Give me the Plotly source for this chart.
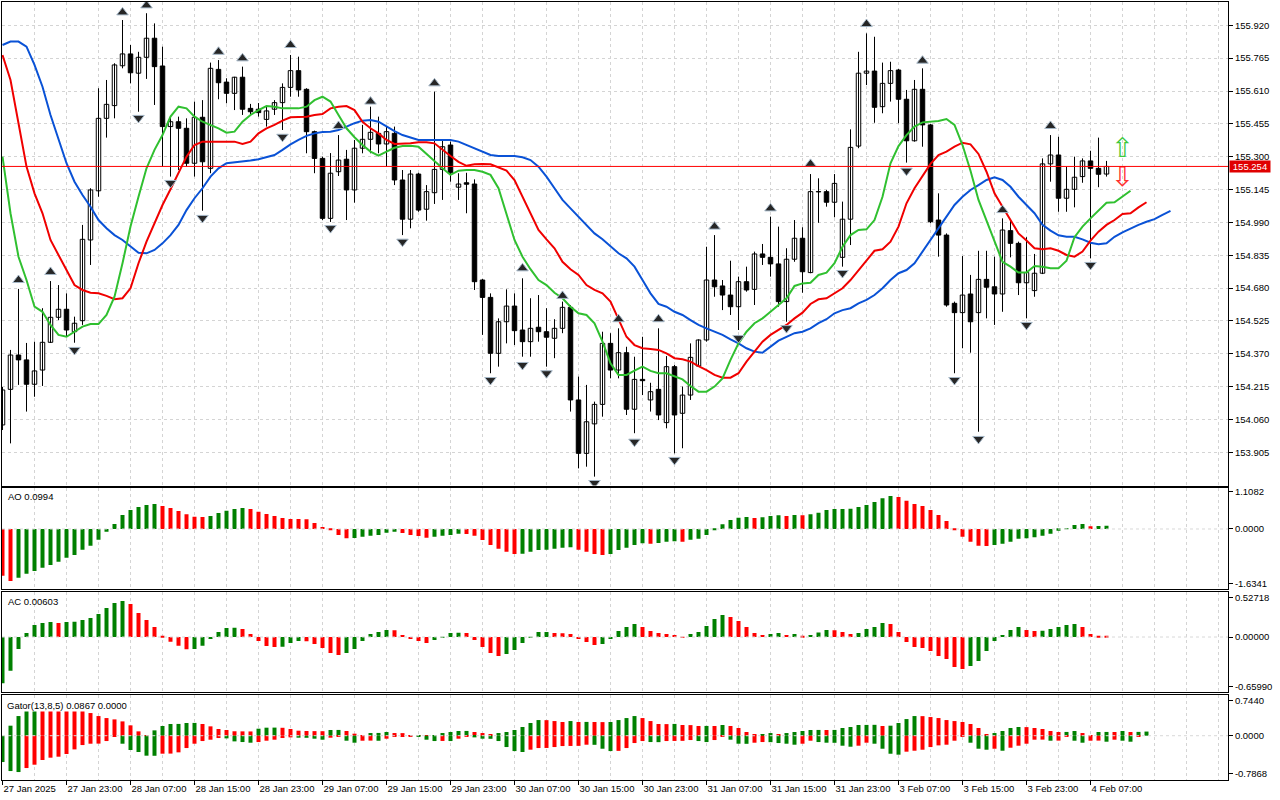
import plotly.graph_objects as go

# ---------------- price data (H1 candles, bar index 0 = 27 Jan 15:00) ----------------
open_ = [154.034,154.202,154.364,154.341,154.226,154.293,154.424,154.542,154.580,154.474,
         154.526,154.907,155.139,155.481,155.541,155.729,155.785,155.694,155.769,155.859,
         155.728,155.442,155.465,155.434,155.269,155.486,155.245,155.712,155.652,155.599,
         155.675,155.528,155.524,155.476,155.524,155.555,155.627,155.706,155.618,155.418,
         155.292,155.009,155.229,155.288,155.143,155.340,155.382,155.410,155.360,155.410,
         155.190,155.005,155.218,155.052,155.130,155.240,155.355,155.156,155.177,155.171,
         154.718,154.636,154.372,154.521,154.595,154.482,154.427,154.495,154.474,154.443,
         154.490,154.589,154.152,153.900,154.039,154.131,154.419,154.293,154.375,154.108,
         154.249,154.152,154.202,154.045,154.309,154.089,154.175,154.312,154.435,154.718,
         154.690,154.647,154.592,154.710,154.674,154.841,154.825,154.794,154.616,154.816,
         154.915,154.753,155.135,155.135,155.085,154.825,155.005,155.350,155.694,155.704,
         155.536,155.646,155.709,155.571,155.375,155.618,155.450,155.001,154.930,154.608,
         154.564,154.652,154.564,154.721,154.686,154.652,154.951,154.891,154.705,154.668,
         154.750,155.266,155.308,155.104,155.146,155.206,155.280,155.245,155.218]
high = [154.213,154.388,154.676,154.421,154.427,154.585,154.713,154.694,154.655,154.545,
        154.978,155.151,155.623,155.662,155.741,155.945,155.827,155.795,155.977,155.929,
        155.819,155.489,155.489,155.481,155.560,155.567,155.744,155.756,155.670,155.677,
        155.725,155.549,155.553,155.536,155.567,155.646,155.780,155.772,155.623,155.423,
        155.300,155.317,155.402,155.332,155.379,155.450,155.536,155.489,155.442,155.442,
        155.237,155.237,155.224,155.166,155.607,155.379,155.371,155.222,155.224,155.193,
        154.723,154.655,154.537,154.674,154.655,154.726,154.632,154.647,154.585,154.533,
        154.616,154.600,154.262,154.223,154.144,154.474,154.467,154.490,154.403,154.356,
        154.450,154.233,154.490,154.359,154.317,154.215,154.419,154.438,154.875,154.930,
        154.718,154.809,154.734,154.781,154.852,154.888,155.017,154.970,154.868,155.001,
        154.967,155.218,155.198,155.143,155.218,155.088,155.429,155.795,155.882,155.866,
        155.744,155.748,155.714,155.615,155.662,155.717,155.454,155.127,154.938,154.616,
        154.831,154.742,154.856,154.856,154.828,155.009,154.998,154.899,154.920,154.841,
        155.292,155.402,155.394,155.253,155.300,155.292,155.328,155.390,155.280]
low = [154.010,153.947,154.223,154.097,154.167,154.218,154.421,154.529,154.450,154.422,
       154.506,154.789,155.111,155.390,155.481,155.717,155.646,155.512,155.667,155.544,
       155.253,155.206,155.237,155.253,155.206,155.045,155.222,155.571,155.552,155.520,
       155.497,155.497,155.489,155.442,155.497,155.426,155.583,155.583,155.316,155.222,
       155.001,154.992,155.209,155.001,155.083,155.316,155.316,155.316,155.253,155.166,
       154.930,154.962,155.040,154.998,155.077,155.096,155.182,155.096,155.033,154.671,
       154.459,154.278,154.309,154.419,154.411,154.356,154.356,154.427,154.309,154.349,
       154.467,154.097,153.829,153.837,153.790,154.073,154.254,154.254,154.081,153.995,
       154.175,154.097,154.057,154.018,153.900,153.924,154.152,154.309,154.427,154.639,
       154.576,154.553,154.482,154.663,154.600,154.789,154.734,154.592,154.521,154.804,
       154.658,154.750,154.988,155.064,155.014,154.781,154.883,155.340,155.638,155.460,
       155.505,155.560,155.458,155.272,155.371,155.347,154.986,154.828,154.592,154.278,
       154.396,154.375,154.002,154.537,154.506,154.568,154.825,154.647,154.537,154.639,
       154.746,155.182,155.040,155.040,155.061,155.177,154.820,155.156,155.206]
close = [154.199,154.364,154.341,154.226,154.289,154.424,154.542,154.580,154.482,154.514,
         154.910,155.143,155.481,155.547,155.733,155.785,155.696,155.769,155.859,155.725,
         155.442,155.465,155.434,155.269,155.486,155.276,155.717,155.649,155.599,155.675,
         155.524,155.512,155.508,155.516,155.555,155.627,155.706,155.615,155.418,155.292,
         155.009,155.222,155.284,155.143,155.340,155.382,155.415,155.360,155.418,155.190,
         155.005,155.218,155.048,155.135,155.240,155.347,155.224,155.171,155.170,154.710,
         154.636,154.372,154.521,154.595,154.479,154.427,154.490,154.474,154.448,154.490,
         154.589,154.152,153.900,154.049,154.131,154.419,154.293,154.375,154.108,154.249,
         154.243,154.191,154.081,154.309,154.081,154.175,154.353,154.435,154.718,154.686,
         154.647,154.592,154.710,154.671,154.841,154.825,154.794,154.616,154.816,154.915,
         154.757,155.135,155.134,155.085,155.174,155.005,155.344,155.694,155.704,155.533,
         155.646,155.706,155.571,155.375,155.618,155.450,154.993,154.930,154.600,154.564,
         154.647,154.521,154.721,154.684,154.652,154.954,154.891,154.705,154.753,154.750,
         155.266,155.308,155.104,155.146,155.203,155.280,155.245,155.217,155.254]

# Alligator (already shifted: jaw +8, teeth +5, lips +3)
jaw = [155.827,155.843,155.843,155.819,155.733,155.630,155.497,155.379,155.269,155.182,
       155.119,155.064,155.001,154.962,154.930,154.907,154.875,154.847,154.844,154.860,
       154.891,154.930,154.978,155.048,155.104,155.151,155.206,155.245,155.269,155.273,
       155.276,155.282,155.288,155.299,155.308,155.332,155.358,155.379,155.398,155.410,
       155.416,155.418,155.426,155.442,155.458,155.470,155.473,155.465,155.442,155.421,
       155.402,155.392,155.379,155.379,155.379,155.379,155.379,155.371,155.355,155.340,
       155.324,155.308,155.303,155.303,155.303,155.297,155.284,155.253,155.206,155.151,
       155.096,155.056,155.017,154.978,154.938,154.910,154.879,154.844,154.820,154.781,
       154.718,154.655,154.605,154.592,154.568,154.553,154.529,154.506,154.490,154.474,
       154.459,154.438,154.419,154.396,154.380,154.375,154.403,154.432,154.450,154.467,
       154.474,154.490,154.514,154.533,154.561,154.576,154.585,154.608,154.624,154.647,
       154.679,154.718,154.750,154.765,154.797,154.852,154.907,154.962,155.017,155.072,
       155.111,155.143,155.166,155.190,155.203,155.190,155.158,155.111,155.072,155.033,
       154.978,154.951,154.929,154.922,154.922,154.910,154.894,154.887,154.891,154.922,
       154.943,154.962,154.978,154.993,155.005,155.025,155.044]
teeth = [155.780,155.662,155.458,155.253,155.127,155.033,154.907,154.836,154.765,154.694,
         154.671,154.658,154.655,154.643,154.627,154.632,154.679,154.797,154.899,154.986,
         155.072,155.146,155.222,155.300,155.355,155.371,155.371,155.371,155.371,155.371,
         155.360,155.371,155.410,155.434,155.450,155.470,155.486,155.489,155.489,155.497,
         155.501,155.528,155.536,155.539,155.520,155.465,155.434,155.410,155.379,155.360,
         155.360,155.363,155.368,155.368,155.363,155.332,155.303,155.276,155.257,155.264,
         155.266,155.264,155.250,155.234,155.190,155.111,155.033,154.954,154.910,154.868,
         154.804,154.769,154.742,154.694,154.671,154.655,154.616,154.537,154.450,154.411,
         154.396,154.392,154.388,154.372,154.349,154.344,154.333,154.312,154.293,154.270,
         154.257,154.257,154.278,154.333,154.380,154.427,154.459,154.482,154.506,154.537,
         154.564,154.605,154.627,154.632,154.655,154.679,154.718,154.765,154.812,154.856,
         154.863,154.899,154.970,155.080,155.151,155.206,155.266,155.308,155.324,155.347,
         155.366,155.358,155.313,155.229,155.127,155.064,155.001,154.938,154.904,154.868,
         154.863,154.868,154.856,154.836,154.828,154.852,154.904,154.946,154.978,155.001,
         155.030,155.033,155.061,155.085]
lips = [155.300,155.033,154.828,154.718,154.592,154.568,154.506,154.459,154.450,154.474,
        154.498,154.510,154.510,154.553,154.639,154.797,154.970,155.111,155.245,155.332,
        155.402,155.489,155.536,155.528,155.489,155.465,155.450,155.434,155.413,155.418,
        155.465,155.497,155.520,155.539,155.536,155.528,155.528,155.528,155.536,155.567,
        155.583,155.560,155.497,155.434,155.392,155.355,155.324,155.305,155.324,155.342,
        155.350,155.352,155.347,155.313,155.276,155.245,155.214,155.234,155.237,155.237,
        155.229,155.214,155.151,155.033,154.907,154.828,154.769,154.718,154.694,154.658,
        154.632,154.592,154.561,154.553,154.514,154.427,154.325,154.270,154.270,154.290,
        154.309,154.289,154.278,154.278,154.265,154.249,154.218,154.191,154.191,154.215,
        154.254,154.341,154.419,154.474,154.514,154.537,154.568,154.600,154.632,154.690,
        154.702,154.705,154.742,154.753,154.797,154.875,154.930,154.954,154.957,155.001,
        155.111,155.269,155.350,155.402,155.442,155.462,155.465,155.468,155.478,155.450,
        155.355,155.234,155.096,155.001,154.907,154.804,154.781,154.753,154.753,154.784,
        154.781,154.773,154.773,154.809,154.920,154.970,155.009,155.048,155.083,155.085,
        155.111,155.139]

# Fractal markers
fractal_up_bar = [2, 6, 15, 18, 27, 30, 36, 42, 46, 54, 65, 70, 77, 82, 89, 96, 101, 108, 115, 125, 131]
fractal_up_price = [154.718, 154.756, 155.981, 156.014, 155.795, 155.764, 155.827, 155.445, 155.560,
                    155.646, 154.773, 154.643, 154.533, 154.533, 154.970, 155.056, 155.266, 155.926,
                    155.753, 155.048, 155.445]
fractal_dn_bar = [9, 17, 21, 25, 35, 41, 50, 61, 65, 68, 74, 79, 84, 92, 98, 105, 113, 119, 122, 128, 136]
fractal_dn_price = [154.388, 155.483, 155.176, 155.011, 155.394, 154.963, 154.899, 154.246, 154.317,
                    154.278, 153.760, 153.955, 153.869, 154.444, 154.491, 154.751, 155.234, 154.246,
                    153.968, 154.506, 154.789]

signal_bar = [140, 140]
signal_price = [155.332, 155.193]
signal_glyph = ["\u21e7", "\u21e9"]
bid_price = 155.254

# Awesome Oscillator
ao = [-1.393,-1.552,-1.453,-1.333,-1.254,-1.154,-1.075,-0.975,-0.856,-0.776,
      -0.617,-0.498,-0.318,-0.080,0.149,0.418,0.567,0.657,0.716,0.746,
      0.687,0.627,0.537,0.438,0.368,0.358,0.388,0.478,0.547,0.597,
      0.627,0.597,0.517,0.448,0.388,0.328,0.299,0.297,0.289,0.179,
      0.060,-0.040,-0.179,-0.279,-0.269,-0.229,-0.199,-0.179,-0.109,-0.080,
      -0.119,-0.179,-0.209,-0.259,-0.229,-0.199,-0.179,-0.139,-0.149,-0.199,
      -0.328,-0.478,-0.587,-0.677,-0.746,-0.736,-0.677,-0.627,-0.617,-0.587,
      -0.557,-0.547,-0.617,-0.677,-0.746,-0.776,-0.746,-0.627,-0.557,-0.478,
      -0.428,-0.438,-0.418,-0.378,-0.368,-0.378,-0.318,-0.289,-0.179,-0.010,
      0.139,0.269,0.338,0.358,0.328,0.348,0.388,0.408,0.388,0.418,
      0.408,0.438,0.488,0.567,0.597,0.600,0.605,0.657,0.716,0.806,
      0.915,0.985,0.955,0.846,0.746,0.687,0.567,0.418,0.239,-0.010,
      -0.229,-0.378,-0.498,-0.508,-0.478,-0.438,-0.378,-0.289,-0.279,-0.249,
      -0.199,-0.139,-0.050,0.020,0.119,0.149,0.085,0.093,0.0994]
ao_color = ("rrgggggggg gggggggggg rrrrrrgggg grrrrrrrrr rrrrgggggg rrrrggggrr rrrrrggggg "
            "ggrrrrgggg grgggrgggg ggggrgggrg rggggggggg ggrrrrrrrr rrrrgggggg ggggggrgg")

# Accelerator Oscillator
ac = [-0.615,-0.447,-0.159,0.053,0.159,0.186,0.199,0.186,0.199,0.201,
      0.226,0.252,0.305,0.385,0.452,0.478,0.438,0.319,0.226,0.133,
      0.013,-0.062,-0.115,-0.164,-0.159,-0.115,-0.027,0.066,0.120,0.122,
      0.106,0.040,-0.053,-0.120,-0.133,-0.130,-0.080,-0.053,-0.058,-0.093,
      -0.146,-0.212,-0.239,-0.212,-0.159,-0.053,0.040,0.066,0.093,0.090,
      0.027,-0.027,-0.053,-0.080,-0.040,0.004,0.053,0.055,0.053,-0.040,
      -0.133,-0.212,-0.252,-0.226,-0.173,-0.080,0.004,0.066,0.068,0.053,
      0.050,0.040,-0.027,-0.066,-0.106,-0.093,-0.027,0.080,0.133,0.173,
      0.133,0.080,0.053,0.040,0.027,-0.002,0.040,0.066,0.146,0.239,
      0.292,0.266,0.212,0.133,0.053,0.027,0.040,0.053,0.027,0.040,
      0.013,0.027,0.060,0.093,0.090,0.066,0.040,0.053,0.106,0.133,
      0.186,0.173,0.066,-0.066,-0.133,-0.146,-0.186,-0.252,-0.292,-0.398,
      -0.425,-0.385,-0.319,-0.186,-0.053,0.027,0.093,0.133,0.093,0.080,
      0.082,0.106,0.133,0.159,0.173,0.133,0.040,0.009,0.00603]
ac_color = ("gggggggrgg ggggggrrrr rrrrgggggg rrrrrgggrr rrrggggggr rrrrggggrr rrrggggggr "
            "rrrrrggggg rrrrrrgggg grrrrrggrg rgggrrrggg grrrrrrrrr rgggggggrr gggggrrrr")

# Gator oscillator (upper = |jaw-teeth|, lower = -|teeth-lips|)
gator_up = [0.000,0.210,0.412,0.560,0.600,0.590,0.580,0.570,0.560,0.550,
            0.540,0.475,0.412,0.370,0.342,0.300,0.217,0.091,0.007,0.112,
            0.203,0.245,0.247,0.266,0.268,0.245,0.196,0.140,0.119,0.093,
            0.091,0.089,0.147,0.168,0.170,0.166,0.140,0.105,0.098,0.096,
            0.094,0.119,0.121,0.098,0.042,0.014,0.056,0.058,0.077,0.056,
            0.054,0.014,0.004,0.002,0.014,0.056,0.077,0.098,0.100,0.077,
            0.056,0.035,0.056,0.077,0.119,0.182,0.266,0.328,0.326,0.307,
            0.287,0.307,0.287,0.289,0.287,0.285,0.287,0.328,0.370,0.412,
            0.370,0.307,0.245,0.243,0.247,0.224,0.222,0.203,0.205,0.203,
            0.224,0.203,0.161,0.077,0.030,0.035,0.056,0.035,0.056,0.077,
            0.098,0.119,0.121,0.119,0.121,0.161,0.182,0.224,0.226,0.228,
            0.203,0.210,0.266,0.349,0.412,0.410,0.391,0.370,0.328,0.307,
            0.287,0.245,0.161,0.035,0.056,0.098,0.161,0.182,0.180,0.161,
            0.140,0.098,0.077,0.079,0.098,0.056,0.014,0.077,0.079,0.077,
            0.098,0.077,0.080,0.0867]
gator_up_color = ("gggggrrrrr rrrrrrrrrg gggggrrrrr rrgggrrrrr rggrrrgggr rrrrgggggr rrggggggrr "
                  "rgrgrrgggg rrrrgrrrgr grrrrggrgg gggrgggggg rggggrrrrr rrrrggggrr rrrggrrggr grgg")
gator_dn = [-0.552,-0.741,-0.762,-0.678,-0.608,-0.510,-0.461,-0.440,-0.384,-0.287,
            -0.196,-0.168,-0.166,-0.112,-0.021,-0.168,-0.300,-0.342,-0.419,-0.421,
            -0.377,-0.375,-0.349,-0.259,-0.168,-0.112,-0.084,-0.049,-0.056,-0.119,
            -0.133,-0.147,-0.133,-0.105,-0.084,-0.049,-0.035,-0.042,-0.044,-0.063,
            -0.084,-0.042,-0.021,-0.105,-0.147,-0.105,-0.103,-0.106,-0.063,-0.021,
            -0.019,-0.010,-0.014,-0.084,-0.112,-0.110,-0.112,-0.063,-0.020,-0.035,
            -0.063,-0.065,-0.112,-0.238,-0.322,-0.342,-0.293,-0.259,-0.257,-0.238,
            -0.217,-0.215,-0.213,-0.189,-0.191,-0.273,-0.322,-0.318,-0.259,-0.154,
            -0.112,-0.133,-0.135,-0.112,-0.110,-0.108,-0.091,-0.112,-0.133,-0.091,
            -0.021,-0.084,-0.168,-0.170,-0.147,-0.133,-0.135,-0.154,-0.168,-0.189,
            -0.168,-0.105,-0.133,-0.147,-0.149,-0.210,-0.231,-0.210,-0.147,-0.168,
            -0.273,-0.378,-0.398,-0.335,-0.315,-0.294,-0.238,-0.203,-0.189,-0.105,
            -0.021,-0.147,-0.273,-0.294,-0.273,-0.315,-0.252,-0.210,-0.168,-0.084,
            -0.082,-0.105,-0.103,-0.021,-0.105,-0.147,-0.105,-0.103,-0.126,-0.084,
            -0.105,-0.126,-0.021,0.000]
gator_dn_color = ("gggrrrrrrr rrrrrggggg rrrrrrrrgg ggrrrrrggg grrggrrgrr rrgggrgrrg ggggggrrrr "
                  "rrrrgggrrr rggrrrrggr rgggrrgggg rrgggggrrg gggrrrrrrr rgggrgrrrr rgrrggrrgr ggrr")

# Axis ticks
price_ticks = [153.905, 154.060, 154.215, 154.370, 154.525, 154.680, 154.835, 154.990,
               155.145, 155.300, 155.455, 155.610, 155.765, 155.920]
time_tick_bars = [0, 8, 16, 24, 32, 40, 48, 56, 64, 72, 80, 88, 96, 104, 112, 120, 128, 136]
time_tick_labels = ["27 Jan 2025", "27 Jan 23:00", "28 Jan 07:00", "28 Jan 15:00", "28 Jan 23:00",
                    "29 Jan 07:00", "29 Jan 15:00", "29 Jan 23:00", "30 Jan 07:00", "30 Jan 15:00",
                    "30 Jan 23:00", "31 Jan 07:00", "31 Jan 15:00", "31 Jan 23:00", "3 Feb 07:00",
                    "3 Feb 15:00", "3 Feb 23:00", "4 Feb 07:00"]
ao_ticks, ao_ticktext = [1.1082, 0.0, -1.6341], ["1.1082", "0.0000", "-1.6341"]
ac_ticks, ac_ticktext = [0.52718, 0.0, -0.65990], ["0.52718", "0.00000", "-0.65990"]
gt_ticks, gt_ticktext = [0.7440, 0.0, -0.7868], ["0.7440", "0.0000", "-0.7868"]

# ---------------- styling ----------------
FONT = "Liberation Sans"
FS = 9.5
GRID = "#d4d4d4"
DASH = "3px,3px"
GREEN, RED = "#008000", "#ff0000"
cmap = {"g": GREEN, "r": RED}


def colours(s):
    return [cmap[c] for c in s.replace(" ", "")]


n = len(close)
bars = list(range(n))

fig = go.Figure()

# candle wicks
wx, wy = [], []
for i in bars:
    wx += [i, i, None]
    wy += [low[i], high[i], None]
fig.add_trace(go.Scatter(x=wx, y=wy, mode="lines", line=dict(color="black", width=1),
                         xaxis="x", yaxis="y", hoverinfo="skip"))
# candle bodies
base = [min(o, c) for o, c in zip(open_, close)]
size = [max(abs(c - o), 0.0012) for o, c in zip(open_, close)]
body_col = ["white" if c >= o else "black" for o, c in zip(open_, close)]
fig.add_trace(go.Bar(x=bars, y=size, base=base, width=0.56,
                     marker=dict(color=body_col, line=dict(color="black", width=1)),
                     xaxis="x", yaxis="y", hoverinfo="skip"))

# alligator
for vals, col in ((jaw, "#0a52d6"), (teeth, "#f00000"), (lips, "#30c030")):
    fig.add_trace(go.Scatter(x=list(range(len(vals))), y=vals, mode="lines",
                             line=dict(color=col, width=2), xaxis="x", yaxis="y",
                             hoverinfo="skip"))

# fractals
fig.add_trace(go.Scatter(x=fractal_up_bar, y=fractal_up_price, mode="markers",
                         marker=dict(symbol="triangle-up", size=10, color="#262626",
                                     line=dict(color="#a6b8c8", width=1)),
                         xaxis="x", yaxis="y", hoverinfo="skip"))
fig.add_trace(go.Scatter(x=fractal_dn_bar, y=fractal_dn_price, mode="markers",
                         marker=dict(symbol="triangle-down", size=10, color="#262626",
                                     line=dict(color="#a6b8c8", width=1)),
                         xaxis="x", yaxis="y", hoverinfo="skip"))

# signal arrows
fig.add_trace(go.Scatter(x=signal_bar, y=signal_price, mode="text", text=signal_glyph,
                         textposition="middle center",
                         textfont=dict(family="DejaVu Sans", size=27, color=["#3cc83c", "#ff3030"]),
                         xaxis="x", yaxis="y", hoverinfo="skip"))

# oscillators
fig.add_trace(go.Bar(x=bars, y=ao, width=0.5, marker=dict(color=colours(ao_color), line=dict(width=0)),
                     xaxis="x2", yaxis="y2", hoverinfo="skip"))
fig.add_trace(go.Bar(x=bars, y=ac, width=0.5, marker=dict(color=colours(ac_color), line=dict(width=0)),
                     xaxis="x3", yaxis="y3", hoverinfo="skip"))
gbars = list(range(len(gator_up)))
fig.add_trace(go.Bar(x=gbars, y=gator_up, width=0.5,
                     marker=dict(color=colours(gator_up_color), line=dict(width=0)),
                     xaxis="x4", yaxis="y4", hoverinfo="skip"))
fig.add_trace(go.Bar(x=gbars, y=gator_dn, width=0.5,
                     marker=dict(color=colours(gator_dn_color), line=dict(width=0)),
                     xaxis="x4", yaxis="y4", hoverinfo="skip"))

XR = [-0.0625, 153.1875]
minor = dict(tickmode="linear", tick0=0, dtick=4, showgrid=True, gridcolor=GRID,
             griddash=DASH, gridwidth=1, ticks="")


def xax(anchor, labels=False):
    d = dict(range=XR, anchor=anchor, showline=True, linecolor="black", linewidth=1, mirror=True,
             zeroline=False, tickmode="array", tickvals=time_tick_bars, showgrid=True,
             gridcolor=GRID, griddash=DASH, gridwidth=1, minor=minor, fixedrange=True)
    if labels:
        d.update(ticktext=time_tick_labels, ticks="outside", ticklen=4, tickcolor="black",
                 tickangle=0, automargin=False,
                 ticklabelposition="outside right", tickfont=dict(size=FS, color="black"))
    else:
        d.update(showticklabels=False, ticks="", matches="x4")
    return d


def yax(anchor, dom, rng, tv, tt, grid=False):
    return dict(domain=dom, anchor=anchor, side="right", range=rng, tickmode="array",
                tickvals=tv, ticktext=tt, ticks="outside", ticklen=4, tickcolor="black",
                showgrid=grid, gridcolor=GRID, griddash=DASH, gridwidth=1, showline=True,
                linecolor="black", linewidth=1, mirror=True, zeroline=False, fixedrange=True,
                automargin=False, tickfont=dict(size=FS, color="black"))


fig.update_layout(
    width=1280, height=800, margin=dict(l=2, r=52, t=2, b=20, autoexpand=False),
    paper_bgcolor="white", plot_bgcolor="white", showlegend=False, barmode="overlay",
    hovermode=False, font=dict(family=FONT, size=FS, color="black"),
    xaxis=xax("y"), xaxis2=xax("y2"), xaxis3=xax("y3"), xaxis4=xax("y4", labels=True),
    yaxis=yax("x", [0.37853, 1.0], [153.7482, 156.0300], price_ticks,
              [f"{v:.3f}" for v in price_ticks], grid=True),
    yaxis2=yax("x2", [0.24512, 0.37494], [-1.800, 1.215], ao_ticks, ao_ticktext),
    yaxis3=yax("x3", [0.11272, 0.24203], [-0.7344, 0.6016], ac_ticks, ac_ticktext),
    yaxis4=yax("x4", [0.0, 0.10925], [-0.9287, 0.8532], gt_ticks, gt_ticktext),
)

shapes = [dict(type="line", xref="paper", x0=0, x1=1, yref="y", y0=bid_price, y1=bid_price,
               line=dict(color="#ff0000", width=1), layer="above")]
for ya in ("y2", "y3", "y4"):
    shapes.append(dict(type="line", xref="paper", x0=0, x1=1, yref=ya, y0=0, y1=0,
                       line=dict(color="#d8d8d8", width=1, dash=DASH), layer="above"))
fig.update_layout(shapes=shapes)

ann = [
    dict(text="AO 0.0994", xref="paper", yref="paper", x=0.0033, y=0.3644, xanchor="left",
         yanchor="middle", showarrow=False, font=dict(size=FS, color="black")),
    dict(text="AC 0.00603", xref="paper", yref="paper", x=0.0033, y=0.2288, xanchor="left",
         yanchor="middle", showarrow=False, font=dict(size=FS, color="black")),
    dict(text="Gator(13,8,5) 0.0867 0.0000", xref="paper", yref="paper", x=0.0033, y=0.0970,
         xanchor="left", yanchor="middle", showarrow=False, bgcolor="white", height=12,
         borderpad=0, font=dict(size=FS, color="black")),
    dict(text="155.254", xref="paper", yref="y", x=1, y=bid_price, xanchor="left", xshift=1,
         yanchor="middle", showarrow=False, bgcolor="#e00000", width=38, height=9, borderpad=1,
         font=dict(size=FS, color="white")),
]
fig.update_layout(annotations=ann)

fig.write_html("out.html", config={"displayModeBar": False},
               post_script="document.body.style.margin='0px';document.body.style.overflow='hidden';")
